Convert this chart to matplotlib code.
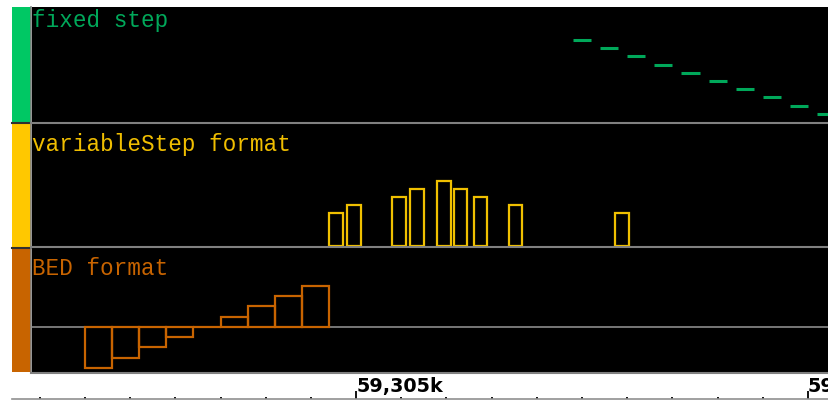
import matplotlib
matplotlib.use("Agg")
import matplotlib.pyplot as plt
from matplotlib.patches import Rectangle
from matplotlib.lines import Line2D
from matplotlib.transforms import blended_transform_factory

W, H = 829, 400

# fixedStep track (1-based starts)
fixed_start = 59307401
fixed_step = 300
fixed_span = 200
fixed_values = [1000, 900, 800, 700, 600, 500, 400, 300, 200, 100]

# variableStep track (1-based positions)
var_span = 150
var_pos = [59304701, 59304901, 59305401, 59305601, 59305901,
           59306081, 59306301, 59306691, 59307871]
var_values = [10.0, 12.5, 15.0, 17.5, 20.0, 17.5, 15.0, 12.5, 10.0]

# BED track (0-based starts)
bed_starts = [59302000, 59302300, 59302600, 59302900, 59303200,
              59303500, 59303800, 59304100, 59304400]
bed_ends = [59302300, 59302600, 59302900, 59303200, 59303500,
            59303800, 59304100, 59304400, 59304700]
bed_values = [-1.0, -0.75, -0.5, -0.25, 0.0, 0.25, 0.5, 0.75, 1.0]

track_names = ["fixed step", "variableStep format", "BED format"]
track_colors = ["#00C864", "#FFC800", "#C86400"]
label_colors = ["#00A85A", "#F0BE00", "#C86400"]
ruler_ticks = [59305000, 59310000]
ruler_labels = ["59,305k", "59,310k"]

# screen scale: 59,305k sits at x=356 px, 0.09037 px per base
ORIGIN_PX, ORIGIN_BP, SCALE = 356.1, 59305000, 0.09037


def px2bp(px):
    return ORIGIN_BP + (px - ORIGIN_PX) / SCALE


def fx(px):
    return px / W


def fy(py):
    return 1 - py / H


fig = plt.figure(figsize=(W / 100, H / 100), dpi=100)
fig.patch.set_facecolor("white")

# black data area and left colour column
fig.add_artist(Rectangle((fx(32), fy(373)), fx(829) - fx(32), fy(7) - fy(373),
                         transform=fig.transFigure, facecolor="black", lw=0, zorder=0))
bands = [(7, 122), (124, 247), (249, 372)]
for (top, bot), c in zip(bands, track_colors):
    fig.add_artist(Rectangle((fx(12), fy(bot)), fx(31) - fx(12), fy(top) - fy(bot),
                             transform=fig.transFigure, facecolor=c, lw=0, zorder=1))
for y in [123, 248]:
    fig.add_artist(Line2D([fx(12), fx(31)], [fy(y), fy(y)], transform=fig.transFigure,
                          color="#303030", lw=1.5, zorder=2))
fig.add_artist(Line2D([fx(31.5), fx(31.5)], [fy(7), fy(373)], transform=fig.transFigure,
                      color="#808080", lw=1.2, zorder=2))
for y in [122.5, 246.5, 372.5]:
    fig.add_artist(Line2D([fx(31), fx(829)], [fy(y), fy(y)], transform=fig.transFigure,
                          color="#808080", lw=1.5, zorder=2))

xlo, xhi = px2bp(32), px2bp(829)
ylims = [(0, 1400), (0, 37.5), (-1.098, 1.902)]
axes = []
for (top, bot), yl in zip([(7, 122), (124, 246), (249, 372)], ylims):
    ax = fig.add_axes([fx(32), fy(bot), fx(829) - fx(32), fy(top) - fy(bot)])
    ax.set_facecolor("none")
    ax.set_xlim(xlo, xhi)
    ax.set_ylim(*yl)
    ax.axis("off")
    axes.append(ax)

ax1, ax2, ax3 = axes

# fixed step: drawn as short dashes at each value
fx_starts = [fixed_start - 1 + i * fixed_step for i in range(len(fixed_values))]
ax1.hlines(fixed_values, fx_starts, [s + fixed_span for s in fx_starts],
           colors="#00A85A", lw=2.2, zorder=3)

# variableStep: outlined bars
ax2.bar([p - 1 for p in var_pos], var_values, width=var_span, align="edge",
        fill=False, edgecolor="#F0C000", lw=1.6, zorder=3)

# BED: outlined boxes around a zero line
ax3.axhline(0, color="#808080", lw=1.3, zorder=2)
ax3.bar(bed_starts, bed_values, width=[e - s for s, e in zip(bed_starts, bed_ends)],
        align="edge", fill=False, edgecolor="#C86400", lw=1.6, zorder=3)

for name, c, base in zip(track_names, label_colors, [27, 151, 275]):
    fig.text(fx(32.5), fy(base), name, color=c, family="Liberation Mono",
             fontsize=16.3, va="baseline", ha="left", zorder=5)

# ruler
axr = fig.add_axes([fx(12), fy(399), fx(829) - fx(12), 20 / H])
axr.set_facecolor("none")
axr.set_xlim(px2bp(12), px2bp(829))
axr.set_ylim(0, 1)
for s in ["top", "left", "right"]:
    axr.spines[s].set_visible(False)
axr.spines["bottom"].set_color("#909090")
axr.spines["bottom"].set_linewidth(1.2)
axr.set_yticks([])
axr.set_xticks(ruler_ticks)
axr.set_xticks(range(59301500, 59310500, 500), minor=True)
axr.tick_params(axis="x", which="major", direction="in", length=5.5, width=1.3,
                color="black", labelbottom=False)
axr.tick_params(axis="x", which="minor", direction="in", length=1.8, width=1.3,
                color="black")
tr = blended_transform_factory(axr.transData, fig.transFigure)
# second label runs off the right edge, as in the source view
for t, lab in zip(ruler_ticks, ruler_labels):
    axr.text(t, fy(392), lab, transform=tr, ha="left", va="baseline",
             fontsize=13.8, fontweight="bold", color="black", clip_on=False)

fig.savefig("out.png", dpi=100)
